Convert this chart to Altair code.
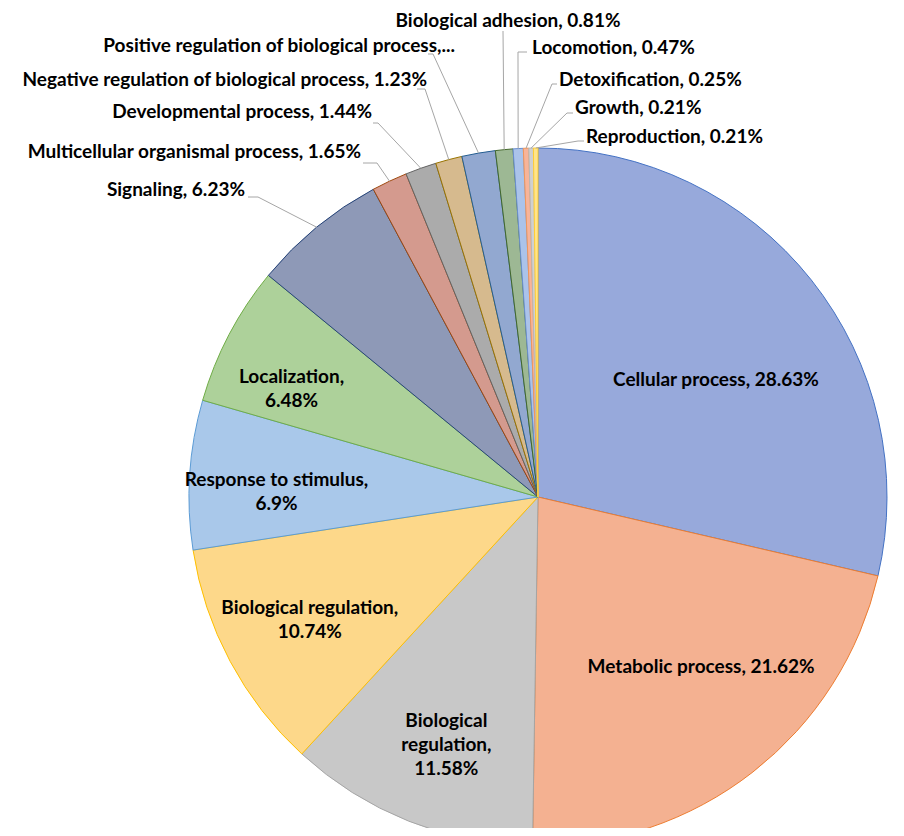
import altair as alt
import pandas as pd

# ---------------- data ----------------
categories = [
    "Cellular process", "Metabolic process", "Biological regulation", "Biological regulation",
    "Response to stimulus", "Localization", "Signaling", "Multicellular organismal process",
    "Developmental process", "Negative regulation of biological process",
    "Positive regulation of biological process", "Biological adhesion", "Locomotion",
    "Detoxification", "Growth", "Reproduction",
]
percent = [28.63, 21.62, 11.58, 10.74, 6.9, 6.48, 6.23, 1.65, 1.44, 1.23, 1.55, 0.81, 0.47, 0.25, 0.21, 0.21]
label_text = [
    "Cellular process, 28.63%", "Metabolic process, 21.62%", "Biological\nregulation,\n11.58%",
    "Biological regulation,\n10.74%", "Response to stimulus,\n6.9%", "Localization,\n6.48%",
    "Signaling, 6.23%", "Multicellular organismal process, 1.65%", "Developmental process, 1.44%",
    "Negative regulation of biological process, 1.23%", "Positive regulation of biological process,...",
    "Biological adhesion, 0.81%", "Locomotion, 0.47%", "Detoxification, 0.25%",
    "Growth, 0.21%", "Reproduction, 0.21%",
]

# ---------------- styles ----------------
fills = ["#97A9DB", "#F4B191", "#C8C8C8", "#FDD88A", "#A9C8EA", "#ADD19A", "#8E99B7", "#D49A8E",
         "#ABABAB", "#D6BA8E", "#92A8D0", "#9DB894", "#ABC3EA", "#F7B49A", "#D0D0D0", "#FFE48A"]
strokes = ["#4472C4", "#ED7D31", "#A5A5A5", "#FFC000", "#5B9BD5", "#70AD47", "#264478", "#9E480E",
           "#636363", "#997300", "#255E91", "#43682B", "#698ED0", "#F1975A", "#B7B7B7", "#FFCD33"]

# ---------------- layout ----------------
CX, CY, R = 530, 489, 349
# inside labels: index -> (radius, dx, dy)
inner = {0: (212, 12, 15), 1: (234, 19, -14), 2: (242, -2, -1), 3: (253, -5, -8),
         4: (262, 0, 0), 5: (274, -4, 8)}
# outside labels: index -> (text x, text y, align, line x0, line x1, line y)
outer = {
    6: (237, 182, "right", 240, 250, 189),
    7: (353, 144, "right", 355, 369, 155),
    8: (364, 104, "right", 365, 370, 115),
    9: (419, 72, "right", 409, 417, 81),
    10: (447, 38, "right", 420, 425, 46),
    11: (500, 13, "center", 495, 495, 23),
    12: (524, 40, "left", 519, 510, 44),
    13: (551, 72, "left", 549, 544, 76),
    14: (567, 100, "left", 565, 559, 105),
    15: (578, 129, "left", 576, 570, 133),
}

rows = []
for i, (c, p, t) in enumerate(zip(categories, percent, label_text)):
    r = dict(idx=i, category=c, percent=p, label=t, fill=fills[i], stroke=strokes[i], kind="none")
    if i in inner:
        r.update(kind="inner", ir=inner[i][0], idx_dx=inner[i][1], idx_dy=inner[i][2])
    if i in outer:
        tx, ty, al, x0, x1, ly = outer[i]
        r.update(kind="outer", tx=tx, ty=ty, align=al, lx0=x0, lx1=x1, ly=ly)
    rows.append(r)
df = pd.DataFrame(rows)

FONT = "Lato"
FS = 19
TXT = "#000000"

base = alt.Chart(df)

pie = base.mark_arc(outerRadius=R, strokeWidth=1).encode(
    theta=alt.Theta("percent:Q", stack=True),
    order=alt.Order("idx:Q"),
    fill=alt.Fill("fill:N", scale=None),
    stroke=alt.Stroke("stroke:N", scale=None),
    x=alt.value(CX),
    y=alt.value(CY),
)

geo = base.transform_window(
    cum="sum(percent)", sort=[alt.SortField("idx")], frame=[None, 0]
).transform_joinaggregate(
    total="sum(percent)"
).transform_calculate(
    mid="(datum.cum - datum.percent/2)/datum.total*2*PI"
).transform_calculate(
    ex=f"{CX} + {R}*sin(datum.mid)",
    ey=f"{CY} - {R}*cos(datum.mid)",
)

inner_txt = geo.transform_filter(alt.datum.kind == "inner").transform_calculate(
    px=f"{CX} + datum.ir*sin(datum.mid) + datum.idx_dx",
    py=f"{CY} - datum.ir*cos(datum.mid) + datum.idx_dy",
).mark_text(
    font=FONT, fontSize=FS, fontWeight="bold", color=TXT, align="center",
    baseline="middle", lineBreak="\n", lineHeight=24,
).encode(
    x=alt.X("px:Q", scale=None), y=alt.Y("py:Q", scale=None), text="label:N"
)

outer_geo = geo.transform_filter(alt.datum.kind == "outer")

lead1 = outer_geo.mark_rule(color="#A6A6A6", strokeWidth=1).encode(
    x=alt.X("ex:Q", scale=None), y=alt.Y("ey:Q", scale=None),
    x2="lx1:Q", y2="ly:Q",
)
lead2 = outer_geo.mark_rule(color="#A6A6A6", strokeWidth=1).encode(
    x=alt.X("lx1:Q", scale=None), y=alt.Y("ly:Q", scale=None),
    x2="lx0:Q", y2="ly:Q",
)

outer_layers = []
for al in ["left", "right", "center"]:
    outer_layers.append(
        outer_geo.transform_filter(alt.datum.align == al).mark_text(
            font=FONT, fontSize=FS, fontWeight="bold", color=TXT, align=al, baseline="middle"
        ).encode(x=alt.X("tx:Q", scale=None), y=alt.Y("ty:Q", scale=None), text="label:N")
    )

chart = alt.layer(pie, lead1, lead2, inner_txt, *outer_layers).properties(
    width=888, height=820, padding=0, autosize=alt.AutoSizeParams(type="none"),
    background="white",
).configure_view(stroke=None)

chart.save("out.html", embed_options={"renderer": "svg", "actions": False})
